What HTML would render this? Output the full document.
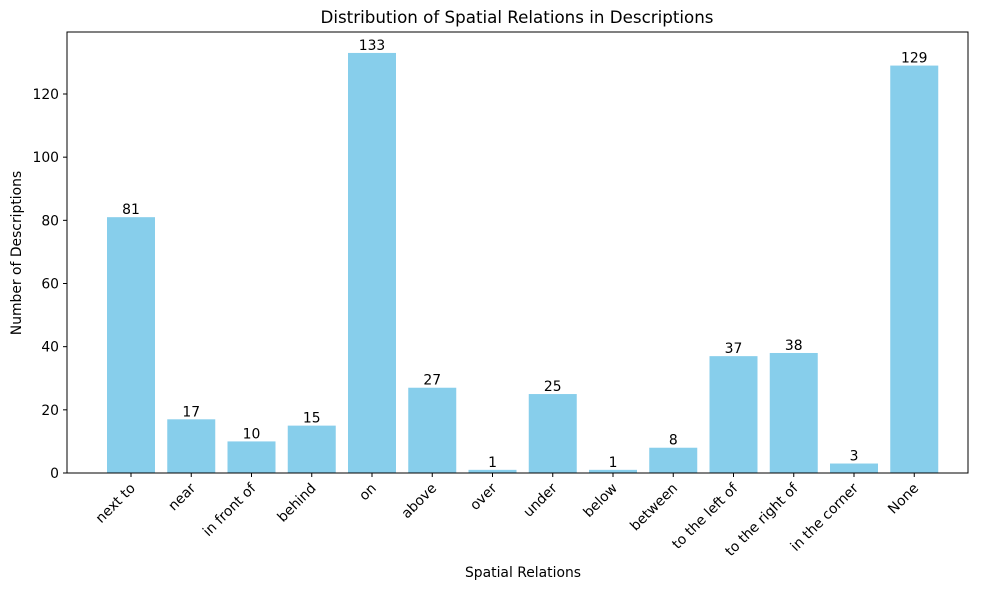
<!DOCTYPE html>
<html><head><meta charset="utf-8"><style>
body{margin:0;background:#fff;font-family:"DejaVu Sans","Liberation Sans",sans-serif}
svg text{font-family:"DejaVu Sans","Liberation Sans",sans-serif;fill:#000}
</style></head><body>
<svg id="chart" width="989" height="590" xmlns="http://www.w3.org/2000/svg">
<text x="517" y="23" font-size="16.7" text-anchor="middle">Distribution of Spatial Relations in Descriptions</text>
<text x="523" y="577" font-size="13.9" text-anchor="middle">Spatial Relations</text>
<text transform="translate(21,253) rotate(-90)" font-size="13.9" text-anchor="middle">Number of Descriptions</text>
<g id="bars"></g><g id="ticks"></g>
<rect x="67" y="32" width="901" height="441" fill="none" stroke="#000" stroke-width="1"/>
</svg>
<script>
const categories=["next to","near","in front of","behind","on","above","over","under","below","between","to the left of","to the right of","in the corner","None"];
const values=[81,17,10,15,133,27,1,25,1,8,37,38,3,129];
const yTicks=[0,20,40,60,80,100,120];
const NS="http://www.w3.org/2000/svg";
const y0=473,yPer=(473-94)/120;
function yScale(v){return y0-v*yPer;}
function xScale(i){return 131+i*60.25;}
const bars=document.getElementById('bars'),ticks=document.getElementById('ticks');
function mk(tag,attrs,parent){const e=document.createElementNS(NS,tag);for(const k in attrs)e.setAttribute(k,attrs[k]);parent.appendChild(e);return e;}
categories.forEach((c,i)=>{
  const x=xScale(i),y=yScale(values[i]);
  const r=mk('rect',{x:x-24,y:y,width:48,height:y0-y,fill:'#87ceeb'},bars);
  
  
  const t=mk('text',{x:x,y:y-3,'font-size':13.9,'text-anchor':'middle'},bars);
  t.textContent=values[i];
  
  
  const tk=mk('line',{x1:x,x2:x,y1:y0,y2:y0+4,stroke:'#000'},ticks);
  
  
  const lb=mk('text',{transform:`translate(${x+5},${y0+16}) rotate(-45)`,'font-size':13.9,'text-anchor':'end'},ticks);
  lb.textContent=c;
  
  
});
yTicks.forEach(v=>{
  const y=yScale(v);
  const tk=mk('line',{x1:63,x2:67,y1:y,y2:y,stroke:'#000'},ticks);
  
  
  const lb=mk('text',{x:59,y:y+5,'font-size':13.9,'text-anchor':'end'},ticks);
  lb.textContent=v;
  
  
});
</script>
</body></html>
